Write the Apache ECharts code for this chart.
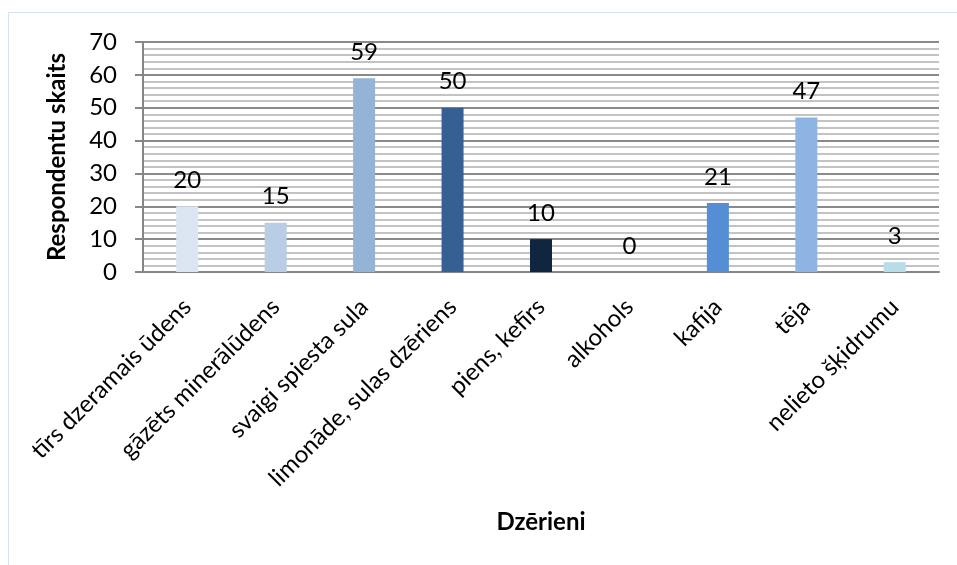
<!DOCTYPE html>
<html>
<head>
<meta charset="utf-8">
<script src="https://cdn.jsdelivr.net/npm/echarts@6/dist/echarts.min.js"></script>
<style>
html,body{margin:0;padding:0;background:#fff;}
#chart{width:957px;height:565px;}
</style>
</head>
<body>
<div id="chart"></div>
<script>
var categories = ['tīrs dzeramais ūdens','gāzēts minerālūdens','svaigi spiesta sula','limonāde, sulas dzēriens','piens, kefīrs','alkohols','kafija','tēja','nelieto šķidrumu'];
var values = [20, 15, 59, 50, 10, 0, 21, 47, 3];
var barColors = ['#DCE6F2','#B9CDE5','#95B3D7','#376092','#10253F','#C6D9F1','#558ED5','#8EB4E3','#B7DEE8'];
var yTitle = 'Respondentu skaits';
var xTitle = 'Dzērieni';

var FONT = 'Lato';
var chart = echarts.init(document.getElementById('chart'), null, {renderer:'canvas'});
chart.setOption({
  animation:false,
  backgroundColor:'#fff',
  textStyle:{fontFamily:FONT},
  graphic:[{type:'rect',shape:{x:8.5,y:12.5,width:960,height:600},style:{fill:'none',stroke:'#D5E1EF',lineWidth:1},z:-1}],
  grid:{left:143,right:18,top:42,bottom:293,containLabel:false},
  xAxis:{
    type:'category',data:categories,
    axisLine:{lineStyle:{color:'#868686',width:2}},
    axisTick:{show:false},
    axisLabel:{rotate:45,color:'#000',fontSize:24,fontFamily:FONT,interval:0,margin:31},
    name:xTitle,nameLocation:'middle',nameGap:238,
    nameTextStyle:{fontSize:24,fontWeight:'bold',color:'#000',fontFamily:FONT}
  },
  yAxis:{
    type:'value',min:0,max:70,interval:10,
    axisLine:{show:true,lineStyle:{color:'#868686',width:2}},
    axisTick:{show:true,length:8,lineStyle:{color:'#868686',width:2}},
    axisLabel:{color:'#000',fontSize:24,fontFamily:FONT,margin:26},
    splitLine:{show:true,lineStyle:{color:'#8A8A8A',width:2}},
    minorTick:{show:false,splitNumber:5},
    minorSplitLine:{show:true,lineStyle:{color:'#C3C3C3',width:2}},
    name:yTitle,nameLocation:'middle',nameGap:74,
    nameTextStyle:{fontSize:24,fontWeight:'bold',color:'#000',fontFamily:FONT}
  },
  series:[{
    type:'bar',
    barWidth:22,
    data:values.map(function(v,i){return {value:v,itemStyle:{color:barColors[i]}};}),
    label:{show:true,position:'top',distance:14,color:'#000',fontSize:24,fontFamily:FONT}
  }]
});
</script>
</body>
</html>
